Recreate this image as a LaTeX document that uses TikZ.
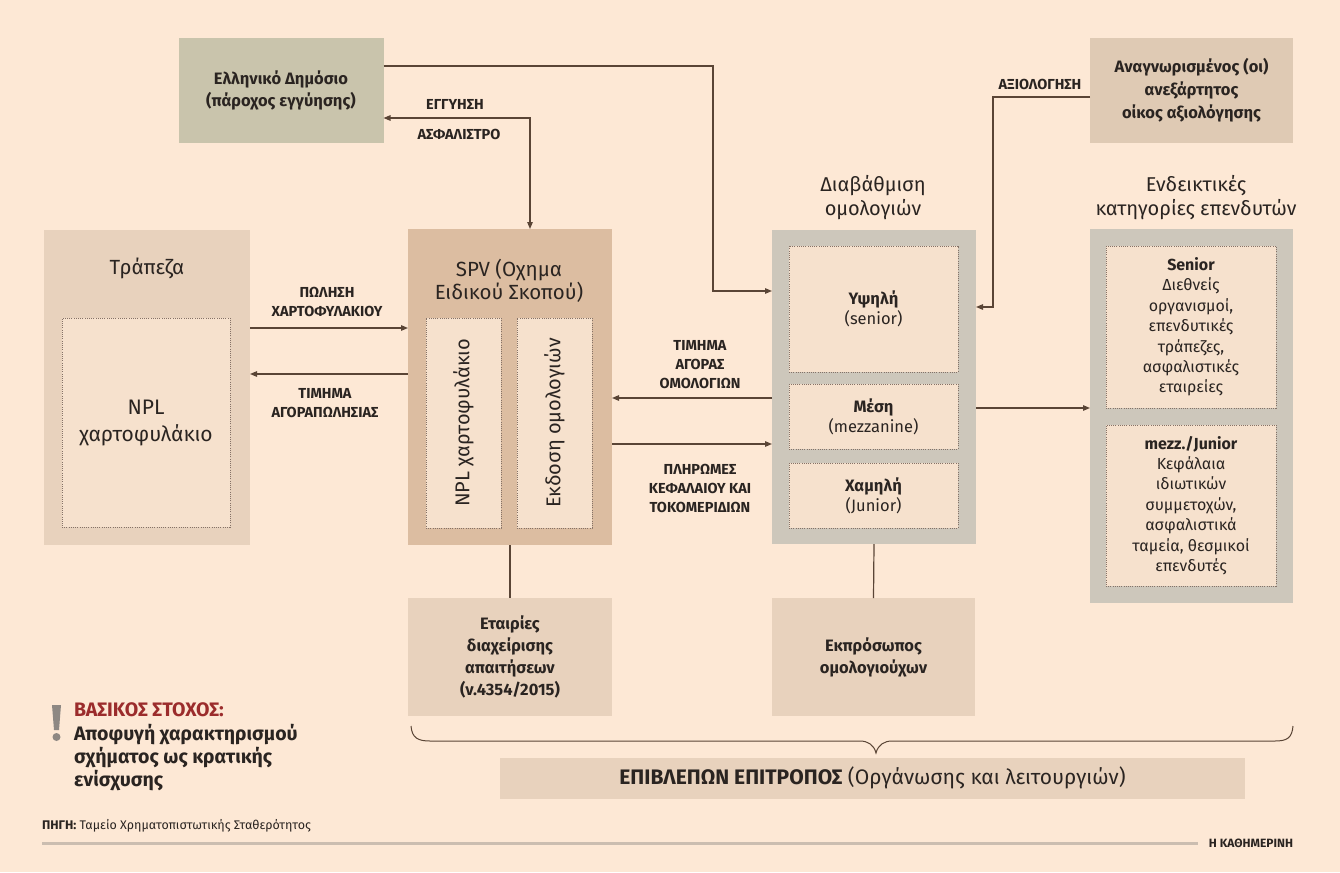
\documentclass[tikz,border=0pt]{standalone}
\usepackage{fontspec}
\setmainfont{Fira Sans}
\usetikzlibrary{arrows.meta}
\definecolor{bgc}{HTML}{FDE8D5}
\definecolor{demc}{HTML}{C9C4AC}
\definecolor{agnc}{HTML}{DFCAB4}
\definecolor{bankc}{HTML}{E8D2BD}
\definecolor{spvc}{HTML}{DCBDA1}
\definecolor{greyc}{HTML}{CDC7BB}
\definecolor{innc}{HTML}{F6E1CD}
\definecolor{linec}{HTML}{5A4536}
\definecolor{dashc}{HTML}{857267}
\definecolor{redc}{HTML}{9B2C2C}
\definecolor{txtc}{HTML}{2A2421}
\definecolor{footc}{HTML}{CBBDB0}
\definecolor{exclc}{HTML}{8E8883}
\newcommand\fsz[2]{\fontsize{#1}{#2}\selectfont}
\begin{document}
\begin{tikzpicture}[x=1pt,y=-1pt,
  >={Triangle[length=7pt,width=5.5pt]},
  blk/.style={rectangle, inner sep=0pt, outer sep=0pt, align=center, text=txtc},
  dsh/.style={blk, draw=dashc, dash pattern=on 1pt off 1.2pt, line width=0.7pt, fill=innc},
  conn/.style={draw=linec, line width=1.2pt},
  arr/.style={conn, ->},
  lab/.style={blk, font=\fsz{14.5}{19}\bfseries},
]
\fill[bgc] (0,0) rectangle (1340,872);
\useasboundingbox (0,0) rectangle (1340,872);

% top boxes
\node[blk, fill=demc, minimum width=205, minimum height=105, font=\fsz{16.5}{22}\bfseries] (dem) at (281,90.5) {Ελληνικό Δημόσιο\\(πάροχος εγγύησης)};
\node[blk, fill=agnc, minimum width=203, minimum height=105, font=\fsz{16.5}{23}\bfseries] (agn) at (1191.5,90.5) {Αναγνωρισμένος (οι)\\ανεξάρτητος\\οίκος αξιολόγησης};

% bank
\node[blk, fill=bankc, minimum width=206, minimum height=315] (bank) at (147,387.5) {};
\node[blk, font=\fsz{20.5}{24}] (banktitle) at (147,268) {Τράπεζα};
\node[dsh, minimum width=168, minimum height=209, font=\fsz{21}{27}] (bankin) at (146,422.5) {NPL\\χαρτοφυλάκιο};

% SPV
\node[blk, fill=spvc, minimum width=204, minimum height=316] (spv) at (510,387) {};
\node[blk, font=\fsz{20.5}{22.5}] (spvtitle) at (509,281) {SPV (Οχημα\\Ειδικού Σκοπού)};
\node[dsh, minimum width=75, minimum height=210] (spvA) at (463.5,423) {};
\node[dsh, minimum width=75, minimum height=210] (spvB) at (554.5,423) {};
\node[blk, rotate=90, font=\fsz{20}{22}] (spvAt) at (spvA) {NPL χαρτοφυλάκιο};
\node[blk, rotate=90, font=\fsz{20}{22}] (spvBt) at (spvB) {Εκδοση ομολογιών};

% grading
\node[blk, font=\fsz{20}{24}] (gradetitle) at (873,198) {Διαβάθμιση\\ομολογιών};
\node[blk, fill=greyc, minimum width=204, minimum height=314] (grade) at (874,387) {};
\node[dsh, minimum width=169, minimum height=126, font=\fsz{16.5}{20}] (hi) at (873.5,309) {\textbf{Υψηλή}\\(senior)};
\node[dsh, minimum width=169, minimum height=65, font=\fsz{16.5}{20}] (mid) at (873.5,416.5) {\textbf{Μέση}\\(mezzanine)};
\node[dsh, minimum width=169, minimum height=65, font=\fsz{16.5}{20}] (lo) at (873.5,495.5) {\textbf{Χαμηλή}\\(Junior)};

% investors
\node[blk, font=\fsz{20}{24}] (invtitle) at (1196,198) {Ενδεικτικές\\κατηγορίες επενδυτών};
\node[blk, fill=greyc, minimum width=203, minimum height=374] (inv) at (1191.5,416) {};
\node[dsh, minimum width=170, minimum height=162, font=\fsz{16}{20.4}] (sen) at (1191,327) {\textbf{Senior}\\Διεθνείς\\οργανισμοί,\\επενδυτικές\\τράπεζες,\\ασφαλιστικές\\εταιρείες};
\node[dsh, minimum width=170, minimum height=161, font=\fsz{16}{20.4}] (jun) at (1191,505.5) {\textbf{mezz./Junior}\\Κεφάλαια\\ιδιωτικών\\συμμετοχών,\\ασφαλιστικά\\ταμεία, θεσμικοί\\επενδυτές};

% bottom boxes
\node[blk, fill=bankc, minimum width=204, minimum height=118, font=\fsz{16.5}{22}\bfseries] (etair) at (510,657) {Εταιρίες\\διαχείρισης\\απαιτήσεων\\(ν.4354/2015)};
\node[blk, fill=bankc, minimum width=203, minimum height=118, font=\fsz{16.5}{22}\bfseries] (rep) at (873.5,657) {Εκπρόσωπος\\ομολογιούχων};
\node[blk, fill=bankc, minimum width=745, minimum height=41, font=\fsz{21}{22}] (epi) at (872.5,778) {\textbf{ΕΠΙΒΛΕΠΩΝ ΕΠΙΤΡΟΠΟΣ} (Οργάνωσης και λειτουργιών)};

% connectors
\draw[arr] (dem.east |- 0,66) -| (713,291) -- (grade.west |- 0,291);
\draw[conn,<->] (dem.east |- 0,118) -| (spv.north -| 530,0);
\draw[arr] (agn.west |- 0,97) -| (993,307) -- (grade.east |- 0,307);
\draw[arr] (bank.east |- 0,328) -- (spv.west |- 0,328);
\draw[arr] (spv.west |- 0,374) -- (bank.east |- 0,374);
\draw[arr] (grade.west |- 0,398) -- (spv.east |- 0,398);
\draw[arr] (spv.east |- 0,444) -- (grade.west |- 0,444);
\draw[arr] (grade.east |- 0,408) -- (inv.west |- 0,408);
\draw[conn] (spv.south) -- (etair.north);
\draw[conn] (grade.south) -- (rep.north);

% labels
\node[lab] (l1) at (455,104) {ΕΓΓΥΗΣΗ};
\node[lab] (l2) at (459,134) {ΑΣΦΑΛΙΣΤΡΟ};
\node[lab] (l3) at (1040,84) {ΑΞΙΟΛΟΓΗΣΗ};
\node[lab] (l4) at (327,302) {ΠΩΛΗΣΗ\\ΧΑΡΤΟΦΥΛΑΚΙΟΥ};
\node[lab] (l5) at (325,403.5) {ΤΙΜΗΜΑ\\ΑΓΟΡΑΠΩΛΗΣΙΑΣ};
\node[lab] (l6) at (700,364.5) {ΤΙΜΗΜΑ\\ΑΓΟΡΑΣ\\ΟΜΟΛΟΓΙΩΝ};
\node[lab] (l7) at (700,488) {ΠΛΗΡΩΜΕΣ\\ΚΕΦΑΛΑΙΟΥ ΚΑΙ\\ΤΟΚΟΜΕΡΙΔΙΩΝ};

% brace
\draw[conn, line width=1pt] (411,726) .. controls (412,738) and (418,741) .. (430,741) -- (860,741) .. controls (868,741) and (874,745) .. (876,753) .. controls (878,745) and (884,741) .. (892,741) -- (1275,741) .. controls (1287,741) and (1292,738) .. (1293,726);

% goal
\fill[exclc] (52,705) -- (61,705) -- (59,730) -- (54,730) -- cycle;
\fill[exclc] (56.5,737) circle (4);
\node[blk, anchor=west, align=left, font=\fsz{19.5}{23.3}\bfseries] (goal) at (74,747) {\textcolor{redc}{ΒΑΣΙΚΟΣ ΣΤΟΧΟΣ:}\\Αποφυγή χαρακτηρισμού\\σχήματος ως κρατικής\\ενίσχυσης};

% footer
\node[blk, anchor=west, font=\fsz{12.5}{13}] (src) at (42,826) {\textbf{ΠΗΓΗ:} Ταμείο Χρηματοπιστωτικής Σταθερότητος};
\draw[footc, line width=3pt] (42,843) -- (1198,843);
\node[blk, anchor=east, font=\fsz{12}{12}\bfseries] (kath) at (1293,843) {Η ΚΑΘΗΜΕΡΙΝΗ};
\end{tikzpicture}
\end{document}
